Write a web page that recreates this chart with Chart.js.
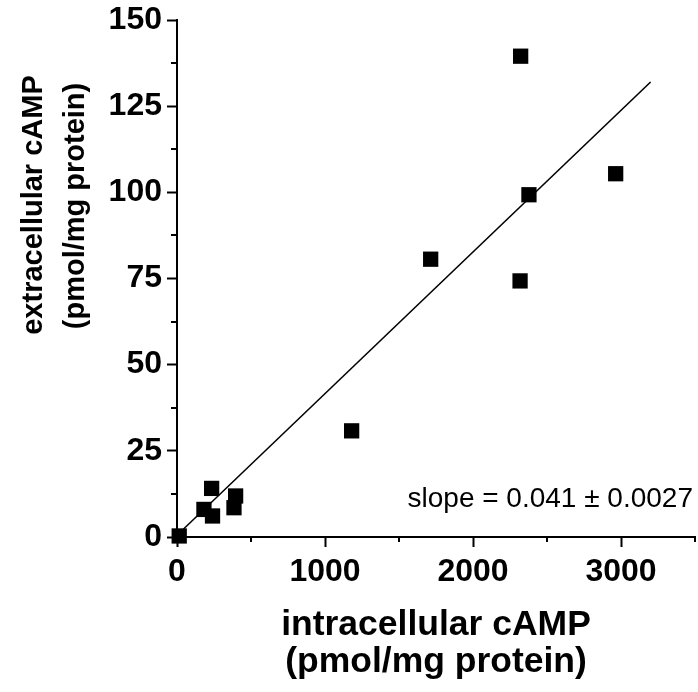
<!DOCTYPE html>
<html>
<head>
<meta charset="utf-8">
<script src="https://cdn.jsdelivr.net/npm/chart.js@4"></script>
<style>
  html, body { margin: 0; padding: 0; background: #fff; }
  #wrap { width: 698px; height: 692px; }
</style>
</head>
<body>
<div id="wrap"><canvas id="myChart" width="698" height="692"></canvas></div>
<script>
// measured points
const intraX = [15, 182, 240, 234, 385, 396, 1180, 1714, 2318, 2322, 2378, 2964];
const extraY = [0.3, 8.0, 6.1, 14.1, 8.5, 11.9, 30.8, 80.6, 74.3, 139.5, 99.3, 105.4];

// fitted line ends
const fitX = [0, 3200];
const fitY = [0.5, 132];

const xTicks = [0, 1000, 2000, 3000];
const yTicks = [0, 25, 50, 75, 100, 125, 150];

const xTitle = ["intracellular cAMP", "(pmol/mg protein)"];
const yTitle = ["extracellular cAMP", "(pmol/mg protein)"];
const slopeText = "slope = 0.041 \u00b1 0.0027";

const FONT = "'Liberation Sans', Arial, sans-serif";

const points = intraX.map((x, i) => ({ x: x, y: extraY[i] }));
const fit = fitX.map((x, i) => ({ x: x, y: fitY[i] }));

// short minor ticks + titles + slope label
const extras = {
  id: "extras",
  afterDraw(chart) {
    const ctx = chart.ctx;
    const xs = chart.scales.x;
    const ys = chart.scales.y;
    const area = chart.chartArea;
    ctx.save();
    ctx.strokeStyle = "#000";
    ctx.lineWidth = 2;
    for (let v = 500; v <= 3500; v += 1000) {
      const px = Math.round(xs.getPixelForValue(v));
      ctx.beginPath();
      ctx.moveTo(px, area.bottom);
      ctx.lineTo(px, area.bottom + 5);
      ctx.stroke();
    }
    for (let v = 12.5; v < 150; v += 25) {
      const py = Math.round(ys.getPixelForValue(v));
      ctx.beginPath();
      ctx.moveTo(area.left, py);
      ctx.lineTo(area.left - 6, py);
      ctx.stroke();
    }

    ctx.fillStyle = "#000";
    ctx.textAlign = "center";
    ctx.textBaseline = "alphabetic";
    ctx.font = "bold 35.5px " + FONT;
    const cx = (area.left + area.right) / 2;
    ctx.fillText(xTitle[0], cx, 635);
    ctx.fillText(xTitle[1], cx, 672);

    ctx.font = "bold 29px " + FONT;
    ctx.save();
    ctx.translate(42, 205);
    ctx.rotate(-Math.PI / 2);
    ctx.fillText(yTitle[0], 0, 0);
    ctx.restore();
    ctx.save();
    ctx.translate(84, 206);
    ctx.rotate(-Math.PI / 2);
    ctx.fillText(yTitle[1], 0, 0);
    ctx.restore();

    ctx.font = "28px " + FONT;
    ctx.textAlign = "right";
    ctx.fillText(slopeText, 693, 507);
    ctx.restore();
  },
};

new Chart(document.getElementById("myChart"), {
  type: "scatter",
  data: {
    datasets: [
      {
        label: "data",
        data: points,
        pointStyle: "rect",
        pointRadius: 10.8,
        pointHoverRadius: 10.8,
        backgroundColor: "#000",
        borderWidth: 0,
        clip: false,
      },
      {
        label: "fit",
        data: fit,
        showLine: true,
        pointRadius: 0,
        borderColor: "#000",
        borderWidth: 1.6,
        fill: false,
      },
    ],
  },
  options: {
    responsive: false,
    animation: false,
    layout: { autoPadding: false, padding: { left: 107, right: 3, top: 20, bottom: 0 } },
    plugins: {
      legend: { display: false },
      tooltip: { enabled: false },
    },
    scales: {
      x: {
        type: "linear",
        min: 0,
        max: 3500,
        afterFit: (s) => {
          s.height = 155;
          s.paddingLeft = 0;
          s.paddingRight = 0;
        },
        ticks: {
          stepSize: 500,
          autoSkip: false,
          maxRotation: 0,
          padding: 6,
          color: "#000",
          font: { family: FONT, size: 32, weight: "bold" },
          callback: (v) => (xTicks.includes(v) ? String(v) : ""),
        },
        grid: {
          drawOnChartArea: false,
          tickLength: 10,
          tickWidth: 2,
          tickColor: (c) => (c.tick && xTicks.includes(c.tick.value) ? "#000" : "rgba(0,0,0,0)"),
        },
        border: { color: "#000", width: 2 },
      },
      y: {
        type: "linear",
        min: 0,
        max: 150,
        afterFit: (s) => {
          s.width = 70;
          s.paddingTop = 0;
          s.paddingBottom = 0;
        },
        ticks: {
          stepSize: 12.5,
          autoSkip: false,
          padding: 5,
          color: "#000",
          font: { family: FONT, size: 32, weight: "bold" },
          callback: (v) => (yTicks.includes(v) ? String(v) : ""),
        },
        grid: {
          drawOnChartArea: false,
          tickLength: 10,
          tickWidth: 2,
          tickColor: (c) => (c.tick && yTicks.includes(c.tick.value) ? "#000" : "rgba(0,0,0,0)"),
        },
        border: { color: "#000", width: 2 },
      },
    },
  },
  plugins: [extras],
});
</script>
</body>
</html>
